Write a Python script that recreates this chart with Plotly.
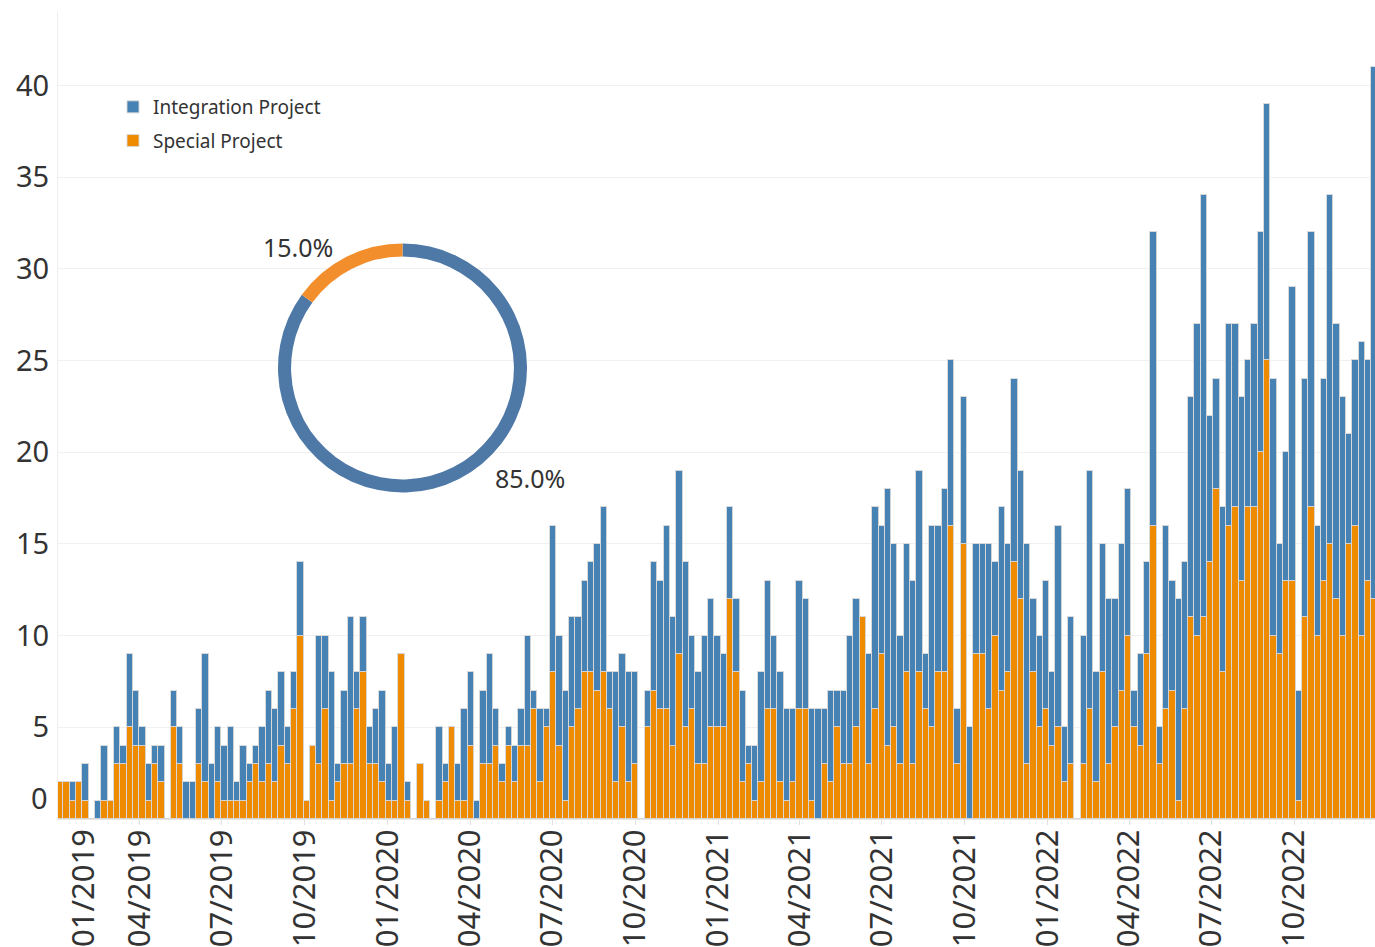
import datetime as dt
import plotly.graph_objects as go

# Weekly project counts (total per week and the Special Project share of it)
week_start = dt.date(2019, 1, 3)
total_per_week = [
    2, 2, 2, 2, 3, 0, 1, 4, 1, 5, 4, 9, 7, 5, 3, 4, 4, 0, 7, 5,
    2, 2, 6, 9, 3, 5, 4, 5, 2, 4, 3, 4, 5, 7, 6, 8, 5, 8, 14, 1,
    4, 10, 10, 8, 3, 7, 11, 8, 11, 5, 6, 7, 3, 5, 9, 2, 0, 3, 1, 0,
    5, 3, 5, 3, 6, 8, 1, 7, 9, 6, 3, 5, 4, 6, 10, 7, 6, 6, 16, 10,
    7, 11, 11, 13, 14, 15, 17, 8, 8, 9, 8, 8, 0, 7, 14, 13, 16, 11, 19, 14,
    10, 8, 10, 12, 10, 9, 17, 12, 7, 4, 4, 8, 13, 10, 8, 6, 6, 13, 12, 6,
    6, 6, 7, 7, 7, 10, 12, 11, 9, 17, 16, 18, 15, 10, 15, 13, 19, 9, 16, 16,
    18, 25, 6, 23, 5, 15, 15, 15, 14, 17, 15, 24, 19, 15, 12, 10, 13, 8, 16, 5,
    11, 0, 10, 19, 8, 15, 12, 12, 15, 18, 7, 9, 14, 32, 5, 16, 13, 12, 14, 23,
    27, 34, 22, 24, 17, 27, 27, 23, 25, 27, 32, 39, 24, 15, 20, 29, 7, 24, 32, 16,
    24, 34, 27, 23, 21, 25, 26, 25, 41,
]
special_project = [
    2, 2, 1, 2, 1, 0, 0, 1, 1, 3, 3, 5, 4, 4, 1, 3, 2, 0, 5, 3,
    0, 0, 3, 2, 0, 2, 1, 1, 1, 1, 2, 3, 2, 3, 2, 4, 3, 6, 10, 1,
    4, 3, 6, 1, 2, 3, 3, 6, 8, 3, 3, 2, 1, 1, 9, 1, 0, 3, 1, 0,
    1, 2, 5, 1, 1, 4, 0, 3, 3, 4, 2, 4, 2, 4, 4, 6, 2, 5, 8, 4,
    1, 5, 6, 8, 8, 7, 8, 6, 2, 5, 2, 3, 0, 5, 7, 6, 6, 4, 9, 5,
    6, 3, 3, 5, 5, 5, 12, 8, 2, 3, 1, 2, 6, 6, 2, 1, 2, 6, 6, 1,
    0, 3, 2, 5, 3, 3, 5, 11, 3, 6, 9, 4, 5, 3, 8, 3, 8, 6, 5, 8,
    8, 16, 3, 15, 0, 9, 9, 6, 10, 7, 8, 14, 12, 3, 8, 5, 6, 4, 5, 2,
    3, 0, 3, 6, 2, 8, 3, 5, 7, 10, 5, 4, 9, 16, 3, 6, 7, 1, 6, 11,
    10, 11, 14, 18, 8, 16, 17, 13, 17, 17, 20, 25, 10, 9, 13, 13, 1, 11, 17, 10,
    13, 15, 12, 10, 15, 16, 10, 13, 12,
]
integration_project = [t - s for t, s in zip(total_per_week, special_project)]
weeks = [week_start + dt.timedelta(days=7 * i) for i in range(len(total_per_week))]

# Overall split shown in the donut
share_labels = ["Integration Project", "Special Project"]
share_values = [85.0, 15.0]

# Quarter tick labels
quarter_ticks = [
    "2019-04-01", "2019-07-01", "2019-10-01", "2020-01-01", "2020-04-01",
    "2020-07-01", "2020-10-01", "2021-01-01", "2021-04-01", "2021-07-01",
    "2021-10-01", "2022-01-01", "2022-04-01", "2022-07-01", "2022-10-01",
]
quarter_text = [
    "04/2019", "07/2019", "10/2019", "01/2020", "04/2020",
    "07/2020", "10/2020", "01/2021", "04/2021", "07/2021",
    "10/2021", "01/2022", "04/2022", "07/2022", "10/2022",
]
y_ticks = [5, 10, 15, 20, 25, 30, 35, 40]

FONT = "Noto Sans"
TEXT = "#333333"
BLUE = "#4682b4"
ORANGE = "#ee8b00"
PIE_BLUE = "#4e79a7"
PIE_ORANGE = "#f28e2b"

W, H = 1375, 947
ML, MR, MT, MB = 58, 0, 12, 128
PW, PH = W - ML - MR, H - MT - MB


def px(x):
    return (x - ML) / PW


def py(y):
    return (H - MB - y) / PH


fig = go.Figure()

bar_line = dict(color="rgba(215,215,215,0.95)", width=1)
fig.add_trace(go.Bar(
    x=weeks, y=special_project, name="Special Project",
    legendgroup="special", legendrank=2,
    marker=dict(color=ORANGE, line=bar_line),
))
fig.add_trace(go.Bar(
    x=weeks, y=integration_project, name="Integration Project",
    legendgroup="integration", legendrank=1,
    marker=dict(color=BLUE, line=bar_line),
))

fig.add_trace(go.Pie(
    labels=share_labels, values=share_values, hole=0.895, sort=False,
    direction="clockwise", rotation=0, textinfo="none",
    marker=dict(colors=[PIE_BLUE, PIE_ORANGE], line=dict(width=0)),
    domain=dict(x=[px(278), px(527)], y=[py(493), py(243)]),
    showlegend=False,
))


def note(text, x, y, size, **kw):
    base = dict(text=text, x=px(x), y=py(y), xref="paper", yref="paper",
                xanchor="center", yanchor="middle", showarrow=False,
                font=dict(family=FONT, size=size, color=TEXT))
    base.update(kw)
    return base


annotations = [
    note("15.0%", 298, 247, 25),
    note("85.0%", 530, 478, 25),
    note("0", 50, 797, 29, xanchor="right"),
    note("01/2019", 82, 827, 31, textangle=-90, yanchor="top"),
]

fig.update_layout(
    width=W, height=H,
    margin=dict(l=ML, r=MR, t=MT, b=MB),
    paper_bgcolor="white", plot_bgcolor="white",
    barmode="stack", bargap=0,
    font=dict(family=FONT, color=TEXT),
    legend=dict(x=px(113), y=py(88), xanchor="left", yanchor="top",
                font=dict(family=FONT, size=19, color=TEXT),
                bgcolor="rgba(0,0,0,0)", traceorder="grouped",
                tracegroupgap=6),
    shapes=[dict(type="rect", xref="paper", yref="paper", layer="between",
                 x0=px(260), x1=px(570), y0=py(518), y1=py(220),
                 fillcolor="white", line=dict(width=0))],
    annotations=annotations,
    xaxis=dict(
        type="date", range=["2018-12-31 12:00", "2022-12-29 12:00"],
        tickvals=quarter_ticks, ticktext=quarter_text, tickangle=-90,
        ticks="outside", ticklen=5, tickcolor="#e0e0e0",
        ticklabelstandoff=-8,
        showline=True, linecolor="#e6e6e6", showgrid=False,
        tickfont=dict(family=FONT, size=31, color=TEXT),
    ),
    yaxis=dict(
        range=[0, 44], tickvals=y_ticks, showgrid=True, gridcolor="#f0f0f0",
        zeroline=False, showline=True, linecolor="#eeeeee", ticks="",
        ticklabelstandoff=2,
        tickfont=dict(family=FONT, size=29, color=TEXT),
    ),
)

fig.write_html("out.html")
